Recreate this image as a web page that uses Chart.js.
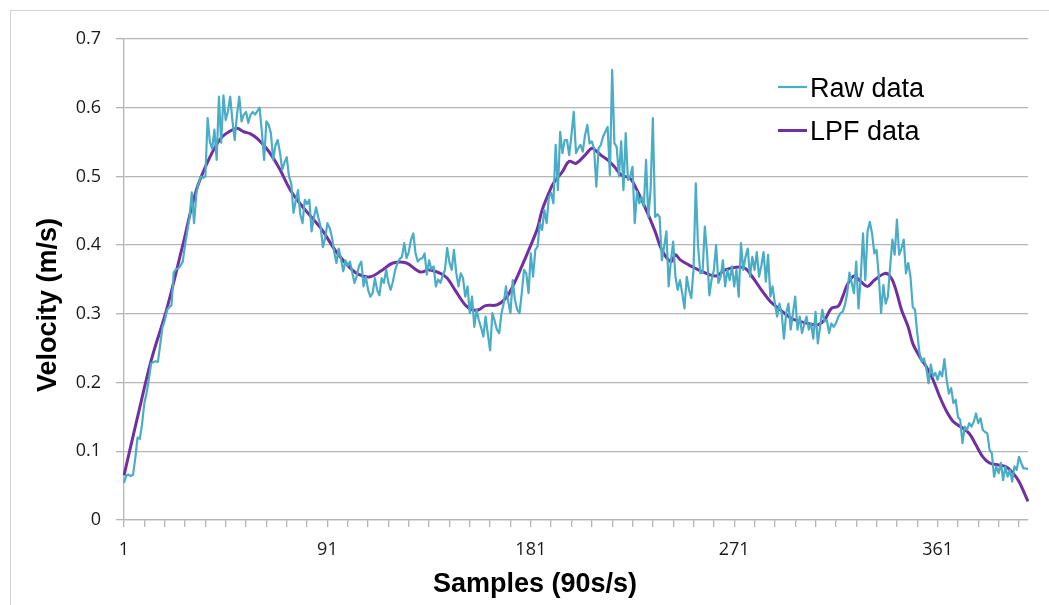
<!DOCTYPE html>
<html>
<head>
<meta charset="utf-8">
<title>Velocity - raw vs LPF</title>
<script src="https://cdn.jsdelivr.net/npm/chart.js@4.4.1/dist/chart.umd.min.js"></script>
<style>
  html, body { margin: 0; padding: 0; background: #fff; overflow: hidden; }
  #wrap { position: relative; width: 1049px; height: 605px; }
  #frame { position: absolute; left: 10px; top: 10px; width: 1100px; height: 700px; border: 1px solid #d2d2d2; box-sizing: border-box; }
  canvas { position: absolute; left: 0; top: 0; }
</style>
</head>
<body>
<div id="wrap">
  <div id="frame"></div>
  <canvas id="chart" width="1049" height="605"></canvas>
</div>
<script>
// sample numbers 1..401 (90 samples per second)
const sampleCount = 401;
const samples = Array.from({ length: sampleCount }, (_, i) => i + 1);

// raw velocity, in mm/s (divided by 1000 below)
const rawVelocity = [
  54, 65, 66, 64, 66, 90, 120, 118, 140, 170,
  185, 205, 228, 230, 231, 230, 255, 280, 290, 305,
  310, 312, 360, 365, 366, 370, 376, 400, 420, 440,
  477, 432, 475, 490, 500, 498, 500, 585, 550, 540,
  568, 524, 616, 549, 618, 582, 595, 616, 580, 553,
  590, 616, 580, 590, 594, 578, 590, 594, 590, 595,
  600, 565, 524, 580, 575, 563, 524, 545, 553, 535,
  510, 520, 528, 500, 490, 447, 465, 480, 445, 432,
  466, 460, 466, 420, 440, 455, 440, 427, 397, 410,
  432, 425, 412, 390, 374, 395, 380, 362, 378, 370,
  376, 360, 345, 355, 370, 376, 340, 354, 335, 325,
  330, 352, 335, 327, 352, 345, 364, 345, 335, 347,
  364, 374, 380, 383, 403, 381, 390, 408, 417, 388,
  376, 380, 381, 388, 357, 378, 365, 369, 340, 350,
  345, 355, 364, 396, 375, 364, 393, 360, 340, 359,
  352, 325, 340, 301, 325, 281, 306, 291, 280, 267,
  296, 270, 247, 301, 290, 277, 272, 300, 315, 340,
  318, 301, 349, 320, 306, 301, 330, 364, 359, 330,
  388, 354, 393, 398, 432, 422, 451, 432, 470, 476,
  461, 546, 480, 565, 534, 553, 553, 531, 560, 594,
  534, 541, 546, 536, 560, 575, 548, 551, 541, 485,
  541, 546, 558, 565, 572, 502, 655, 548, 543, 500,
  551, 480, 563, 495, 500, 514, 432, 478, 461, 470,
  456, 524, 441, 480, 585, 441, 445, 441, 378, 398,
  420, 340, 378, 405, 354, 335, 349, 330, 308, 354,
  335, 323, 364, 490, 398, 359, 360, 427, 388, 327,
  350, 364, 400, 345, 354, 378, 340, 364, 349, 369,
  340, 364, 325, 403, 364, 383, 395, 354, 383, 364,
  390, 354, 370, 390, 347, 386, 325, 340, 315, 296,
  315, 301, 264, 301, 315, 277, 301, 325, 277, 296,
  272, 285, 296, 277, 286, 264, 303, 257, 281, 306,
  289, 291, 272, 286, 281, 286, 295, 301, 303, 313,
  330, 360, 345, 330, 376, 308, 354, 417, 349, 420,
  434, 417, 388, 393, 354, 301, 342, 315, 325, 369,
  408, 386, 437, 386, 395, 408, 359, 374, 354, 310,
  306, 272, 243, 230, 235, 221, 199, 226, 209, 214,
  204, 216, 209, 234, 204, 184, 192, 170, 175, 150,
  146, 112, 136, 131, 141, 136, 143, 155, 141, 148,
  131, 128, 126, 102, 97, 63, 78, 68, 83, 58,
  78, 63, 73, 56, 78, 73, 92, 83, 75, 75, 74
];

// low-pass filtered curve, read at these sample numbers
const lpfSamples = [
  1, 7, 13, 20, 27, 33, 39, 44, 48, 51,
  54, 57, 60, 64, 67, 70, 75, 81, 88, 95,
  101, 105, 110, 115, 120, 126, 132, 136, 141, 144,
  148, 152, 155, 158, 161, 166, 170, 173, 177, 181,
  184, 186, 189, 191, 195, 198, 201, 205, 208, 210,
  212, 215, 218, 221, 225, 228, 230, 233, 236, 239,
  243, 245, 247, 251, 254, 257, 263, 267, 272, 276,
  279, 283, 287, 291, 296, 300, 305, 308, 311, 314,
  317, 319, 321, 324, 327, 330, 333, 337, 339, 341,
  343, 345, 348, 350, 353, 356, 359, 362, 365, 368,
  371, 375, 378, 381, 384, 388, 391, 394, 397, 401
];
const lpfVelocity = [
  65, 150, 232, 308, 400, 480, 528, 556, 566, 570,
  565, 562, 555, 541, 527, 510, 478, 452, 425, 390,
  367, 357, 354, 363, 374, 374, 361, 364, 359, 352,
  332, 313, 306, 306, 312, 313, 323, 340, 369, 400,
  425, 451, 476, 490, 507, 522, 519, 531, 541, 537,
  531, 524, 514, 502, 497, 480, 466, 444, 420, 393,
  376, 386, 379, 371, 366, 361, 355, 364, 368, 366,
  354, 335, 318, 307, 294, 289, 285, 284, 291, 308,
  311, 325, 342, 355, 347, 340, 349, 358, 358, 349,
  330, 306, 281, 257, 238, 223, 204, 179, 158, 143,
  136, 126, 109, 92, 83, 80, 78, 70, 56, 27
];

const seriesNames = ['Raw data', 'LPF data'];
const seriesColors = ['#4bacc6', '#7030a0'];
const xTitle = 'Samples (90s/s)';
const yTitle = 'Velocity (m/s)';

const tickFont = { family: '"Open Sans", "Noto Sans", sans-serif', size: 18 };
const gridColor = '#b5b5b5';

// axis titles + legend drawn on the canvas
const extras = {
  id: 'extras',
  afterDraw(chart) {
    const c = chart.ctx;
    c.save();
    c.fillStyle = '#000';
    c.font = 'bold 27px "Liberation Sans", Arial, sans-serif';
    c.textAlign = 'center';
    c.textBaseline = 'alphabetic';
    c.fillText(xTitle, 535, 592);
    c.save();
    c.translate(56, 305);
    c.rotate(-Math.PI / 2);
    c.fillText(yTitle, 0, 0);
    c.restore();

    c.font = '27px "Liberation Sans", Arial, sans-serif';
    c.textAlign = 'left';
    const rows = [[87, 97], [130.5, 140]];
    seriesNames.forEach((name, i) => {
      c.strokeStyle = seriesColors[i];
      c.lineWidth = i === 0 ? 2.2 : 3;
      c.beginPath();
      c.moveTo(778, rows[i][0]);
      c.lineTo(807, rows[i][0]);
      c.stroke();
      c.fillStyle = '#000';
      c.fillText(name, 810, rows[i][1]);
    });
    c.restore();
  }
};

const ctx = document.getElementById('chart').getContext('2d');
new Chart(ctx, {
  type: 'line',
  data: {
    labels: samples,
    datasets: [
      {
        label: seriesNames[0],
        data: rawVelocity.map(v => v / 1000),
        borderColor: seriesColors[0],
        borderWidth: 2.2,
        borderJoinStyle: 'round',
        pointRadius: 0,
        tension: 0
      },
      {
        label: seriesNames[1],
        data: lpfSamples.map((s, i) => ({ x: s, y: lpfVelocity[i] / 1000 })),
        borderColor: seriesColors[1],
        borderWidth: 3,
        borderJoinStyle: 'round',
        pointRadius: 0,
        tension: 0.35
      }
    ]
  },
  options: {
    responsive: false,
    animation: false,
    layout: { padding: { top: 39, right: 21, left: 0, bottom: 0 } },
    plugins: { legend: { display: false }, tooltip: { enabled: false } },
    scales: {
      x: {
        type: 'category',
        offset: false,
        afterFit: s => { s.height = 85; },
        afterBuildTicks: s => { s.ticks = s.ticks.filter(t => t.value % 9 === 0); },
        grid: { drawOnChartArea: false, drawTicks: true, tickLength: 7, color: gridColor, lineWidth: 1.3 },
        border: { color: gridColor, width: 1.3 },
        ticks: {
          autoSkip: false,
          maxRotation: 0,
          padding: 12,
          font: tickFont,
          color: '#1a1a1a',
          callback: v => (v % 90 === 0 ? String(samples[v]) : '')
        }
      },
      y: {
        min: 0,
        max: 0.7,
        afterFit: s => { s.width = 124; },
        grid: { color: gridColor, lineWidth: 1.3, tickLength: 8 },
        border: { color: gridColor, width: 1.3 },
        ticks: { stepSize: 0.1, padding: 15, font: tickFont, color: '#1a1a1a' }
      }
    }
  },
  plugins: [extras]
});
</script>
</body>
</html>
